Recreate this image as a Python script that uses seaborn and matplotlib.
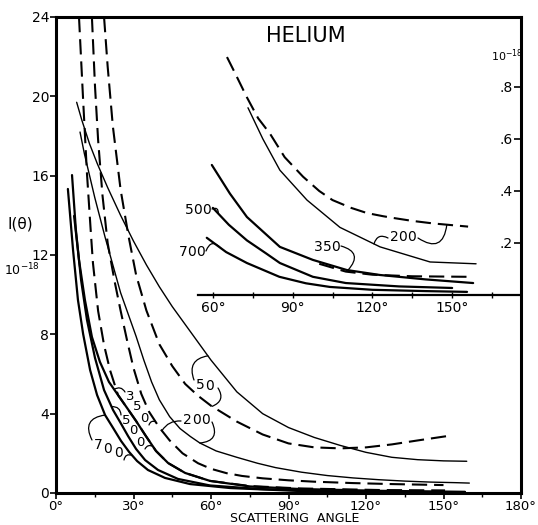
import numpy as np
import pandas as pd
import matplotlib
matplotlib.use("Agg")
import matplotlib.pyplot as plt
import seaborn as sns
from matplotlib.ticker import MultipleLocator

sns.set_style("ticks")
plt.rcParams['font.family'] = ['DejaVu Sans']
plt.rcParams['lines.scale_dashes'] = False
for k in ('text.color', 'axes.labelcolor', 'xtick.color', 'ytick.color', 'axes.edgecolor'):
    plt.rcParams[k] = 'black'

# ---------------- main panel data (theta in degrees, I in 1e-18) ----------------
s50_theta = [8, 10, 13, 16, 20, 25, 30, 35, 40, 45, 50, 55, 60, 65, 70, 80, 90, 100, 110, 120, 130, 140, 150, 159]
s50_I = [19.7, 18.8, 17.6, 16.6, 15.4, 14.0, 12.7, 11.5, 10.4, 9.4, 8.5, 7.6, 6.7, 5.9, 5.1, 4.0, 3.3, 2.8, 2.4, 2.05, 1.8, 1.68, 1.62, 1.6]

d50_theta = [18.6, 20, 22, 25, 28, 31, 35, 40, 45, 50, 55, 60, 70, 80, 90, 100, 110, 120, 130, 140, 153]
d50_I = [24, 21.5, 18.5, 15.3, 13.0, 11.0, 9.2, 7.5, 6.4, 5.5, 4.9, 4.4, 3.6, 2.95, 2.5, 2.3, 2.25, 2.3, 2.45, 2.65, 2.9]

s200_theta = [9.3, 11, 13, 15, 17, 19, 22, 25, 28, 31, 34, 37, 40, 44, 48, 52, 55.7, 62, 70, 78, 85, 95, 105, 115, 125, 135, 145, 155, 160]
s200_I = [18.2, 17.1, 16.0, 14.9, 13.9, 12.9, 11.5, 10.1, 9.0, 7.9, 6.7, 5.6, 4.7, 3.85, 3.25, 2.85, 2.52, 2.12, 1.8, 1.5, 1.28, 1.05, 0.88, 0.76, 0.67, 0.6, 0.55, 0.52, 0.5]

d200_theta = [13.9, 15.1, 16.3, 18, 20, 22.8, 25, 27.5, 30, 33, 36, 40, 44, 49, 55, 60, 66, 72, 80, 90, 100, 115, 130, 150]
d200_I = [24, 20.5, 17.8, 15.0, 12.6, 10.6, 9.2, 7.7, 6.3, 5.0, 4.1, 3.3, 2.65, 2.0, 1.5, 1.22, 1.0, 0.86, 0.74, 0.64, 0.57, 0.5, 0.45, 0.4]

d350_theta = [8.9, 10.5, 12.0, 13.5, 14.3, 16.3, 18.6, 20.9, 24.0, 27.5, 31.0, 34.8, 38.7, 43.4, 50.0, 59.6, 75.1, 94.5, 125.4, 150.6]
d350_I = [24.0, 19.82, 16.08, 13.11, 11.6, 9.18, 7.46, 6.2, 4.94, 4.29, 3.63, 2.87, 2.12, 1.51, 1.01, 0.61, 0.35, 0.23, 0.15, 0.13]

s350_theta = [7.0, 8.9, 11.2, 13.9, 17.0, 20.5, 24.0, 27.5, 31.0, 34.8, 38.7, 43.4, 50.0, 59.6, 75.1, 94.5, 125.4, 158.3]
s350_I = [13.97, 11.75, 9.73, 7.87, 6.61, 5.6, 4.94, 4.29, 3.63, 2.87, 2.12, 1.51, 1.01, 0.61, 0.33, 0.2, 0.11, 0.06]

s500_theta = [6.2, 7.7, 9.7, 12.0, 15.1, 18.6, 22.1, 24.8, 27.9, 31.0, 34.5, 39.5, 47.2, 59.6, 79.0, 106.1, 158.3]
s500_I = [16.03, 13.26, 10.74, 8.72, 6.81, 5.19, 4.18, 3.58, 2.87, 2.22, 1.66, 1.16, 0.71, 0.38, 0.2, 0.086, 0.035]

s700_theta = [4.6, 6.6, 8.5, 10.5, 13.2, 15.9, 19.0, 22.1, 25.2, 28.3, 31.4, 35.6, 42.2, 51.9, 67.4, 94.5, 133.2, 158.3]
s700_I = [15.33, 12.25, 9.73, 8.02, 6.2, 4.94, 3.93, 3.28, 2.62, 2.07, 1.61, 1.16, 0.76, 0.45, 0.25, 0.1, 0.035, 0.015]

# ---------------- inset data ----------------
in_d200_theta = [65.3, 68, 72.8, 77, 81.5, 87, 93.9, 100, 105, 112, 118, 124, 128, 135, 143, 156]
in_d200_I = [0.915, 0.86, 0.76, 0.68, 0.62, 0.53, 0.455, 0.40, 0.365, 0.335, 0.315, 0.303, 0.296, 0.285, 0.275, 0.263]

in_s200_theta = [73.2, 78.8, 85.2, 95.4, 107.8, 122.9, 141.7, 159]
in_s200_I = [0.72, 0.6, 0.48, 0.365, 0.26, 0.185, 0.127, 0.12]

in_s350_theta = [59.6, 66.4, 72.8, 85.2, 97.6, 110.4, 122.8, 140, 157.9]
in_s350_I = [0.5, 0.39, 0.30, 0.185, 0.135, 0.096, 0.077, 0.06, 0.046]

in_d350_theta = [100, 110, 120, 135, 155.6]
in_d350_I = [0.12, 0.09, 0.078, 0.072, 0.07]

in_s500_theta = [60, 66, 72.8, 80, 85.2, 97.6, 110, 130, 150]
in_s500_I = [0.335, 0.27, 0.21, 0.16, 0.123, 0.07, 0.046, 0.033, 0.027]

in_s700_theta = [57.7, 65, 72.8, 85, 95, 104, 120, 140, 155.6]
in_s700_I = [0.22, 0.165, 0.123, 0.07, 0.045, 0.031, 0.02, 0.015, 0.012]

main_ticks_y = [0, 4, 8, 12, 16, 20, 24]
main_ticks_x = [0, 30, 60, 90, 120, 150, 180]
inset_ticks_y = [0.2, 0.4, 0.6, 0.8]
inset_ticklabels_y = ['.2', '.4', '.6', '.8']
inset_ticks_x = [60, 90, 120, 150]

W, H = 538, 525
fig = plt.figure(figsize=(W / 100, H / 100), dpi=100)

def px_axes(x0, y0, x1, y1):
    return [x0 / W, 1 - y1 / H, (x1 - x0) / W, (y1 - y0) / H]

ax = fig.add_axes(px_axes(56, 17, 521, 493))
ax_in = fig.add_axes(px_axes(198, 17, 521, 295))
ax_in.patch.set_alpha(0)

THIN = 1.0
THICK = 1.6
DASH = (0, (11, 5))

main_curves = [
    (s50_theta, s50_I, 'thin'),
    (d50_theta, d50_I, 'dash'),
    (s200_theta, s200_I, 'thin'),
    (d200_theta, d200_I, 'dash'),
    (d350_theta, d350_I, 'dash'),
    (s350_theta, s350_I, 'thick'),
    (s500_theta, s500_I, 'thick'),
    (s700_theta, s700_I, 'thick'),
]
inset_curves = [
    (in_d200_theta, in_d200_I, 'dash'),
    (in_s200_theta, in_s200_I, 'thin'),
    (in_d350_theta, in_d350_I, 'dash'),
    (in_s350_theta, in_s350_I, 'thick'),
    (in_s500_theta, in_s500_I, 'thick'),
    (in_s700_theta, in_s700_I, 'thick'),
]

def draw(axis, curves):
    for th, iv, kind in curves:
        df = pd.DataFrame({'theta': th, 'I': iv})
        if kind == 'dash':
            sns.lineplot(data=df, x='theta', y='I', ax=axis, color='black', lw=1.5,
                         linestyle=DASH, sort=False, estimator=None)
        else:
            sns.lineplot(data=df, x='theta', y='I', ax=axis, color='black',
                         lw=THIN if kind == 'thin' else THICK, sort=False, estimator=None)

draw(ax, main_curves)
draw(ax_in, inset_curves)

# ---- main axes styling ----
ax.set_xlim(0, 180)
ax.set_ylim(0, 24)
for s in ax.spines.values():
    s.set_linewidth(2.2)
    s.set_visible(True)
ax.set_xticks(main_ticks_x)
ax.set_xticklabels([f"{v}°" for v in main_ticks_x])
ax.xaxis.set_minor_locator(MultipleLocator(15))
ax.set_yticks(main_ticks_y)
ax.set_yticklabels([str(v) for v in main_ticks_y])
ax.tick_params(axis='both', which='major', direction='out', length=4, width=1.2,
               labelsize=9.5, pad=1)
ax.tick_params(axis='y', which='major', labelsize=10)
ax.tick_params(axis='x', which='minor', direction='out', length=3, width=1.0)
ax.set_xlabel("SCATTERING  ANGLE", fontsize=9, va='bottom')
ax.xaxis.set_label_coords((295 - 56) / 465, (493 - 525) / 476)
ax.set_ylabel("I(θ)", fontsize=11, rotation=0, va='center', ha='center')
ax.yaxis.set_label_coords((20 - 56) / 465, (493 - 224) / 476)
ax.text((22 - 56) / 465, (493 - 270) / 476, r"$10^{-18}$", transform=ax.transAxes,
        ha='center', va='center', fontsize=9)

# ---- inset styling ----
ax_in.set_xlim(54.4, 175.9)
ax_in.set_ylim(0, 1.069)
for k in ('top', 'left', 'right'):
    ax_in.spines[k].set_visible(False)
ax_in.spines['bottom'].set_linewidth(1.6)
ax_in.yaxis.tick_right()
ax_in.set_yticks(inset_ticks_y)
ax_in.set_yticklabels(inset_ticklabels_y)
ax_in.tick_params(axis='y', direction='in', length=5, width=1.2, labelsize=10, pad=-6)
plt.setp(ax_in.get_yticklabels(), ha='right')
ax_in.set_xticks(inset_ticks_x)
ax_in.set_xticklabels([f"{v}°" for v in inset_ticks_x])
ax_in.xaxis.set_minor_locator(MultipleLocator(15))
ax_in.tick_params(axis='x', which='major', direction='inout', length=5, width=1.0,
                  labelsize=10, pad=2)
ax_in.tick_params(axis='x', which='minor', direction='inout', length=4, width=1.0)
ax_in.set_xlabel("")
ax_in.set_ylabel("")
fig.text(306 / W, 1 - 36 / H, "HELIUM", fontsize=15, ha='center', va='center')
fig.text(507 / W, 1 - 56 / H, r"$10^{-18}$", fontsize=8, ha='center', va='center')

# ---- helpers for labels and bracket hooks ----
def px_to_data(axis, x, y):
    disp = fig.transFigure.transform((x / W, 1 - y / H))
    return axis.transData.inverted().transform(disp)

def hook(axis, start_px, th, arr_t, arr_i, rad):
    p = px_to_data(axis, *start_px)
    yv = float(np.interp(th, arr_t, arr_i))
    axis.annotate("", xy=(th, yv), xytext=(p[0], p[1]),
                  arrowprops=dict(arrowstyle='-', lw=0.9, color='black',
                                  connectionstyle=f"arc3,rad={rad}",
                                  shrinkA=0, shrinkB=0))

def chars(axis, text, positions, fs=10):
    for ch, (x, y) in zip(text, positions):
        p = px_to_data(axis, x, y)
        axis.text(p[0], p[1], ch, fontsize=fs, ha='center', va='center')

# main "50"
chars(ax, "50", [(200, 385), (209, 386)])
hook(ax, (194, 380), 58.8, s50_theta, s50_I, -0.6)
hook(ax, (218, 388), 60.4, d50_theta, d50_I, -0.6)
# main "200"
chars(ax, "200", [(187, 420), (196, 420), (205, 420)])
hook(ax, (181, 421), 41, d200_theta, d200_I, 0.3)
hook(ax, (212, 422), 55.7, s200_theta, s200_I, -0.7)
# main "350" (diagonal, upright glyphs)
chars(ax, "350", [(130, 397), (137, 407), (144, 419)], fs=9.5)
hook(ax, (125, 392), 22.5, s350_theta, s350_I, 0.5)
hook(ax, (149, 425), 38.5, d200_theta, d200_I, -0.5)
# main "500"
chars(ax, "500", [(126, 420), (133, 431), (140, 443)], fs=9.5)
hook(ax, (121, 415), 21.5, s500_theta, s500_I, 0.5)
hook(ax, (145, 449), 37.5, s350_theta, s350_I, -0.5)
# main "700"
chars(ax, "700", [(98, 445), (108, 449), (118, 453)])
hook(ax, (92, 440), 19, s700_theta, s700_I, -0.7)
hook(ax, (124, 460), 29.5, s700_theta, s700_I, -0.6)

# inset labels
chars(ax_in, "500", [(189, 210), (198, 210), (207, 210)])
hook(ax_in, (212, 209), 62, in_s500_theta, in_s500_I, -0.8)
chars(ax_in, "700", [(183, 252), (192, 252), (201, 252)])
hook(ax_in, (206, 251), 63, in_s700_theta, in_s700_I, -0.8)
chars(ax_in, "350", [(318, 247), (327, 247), (336, 247)])
hook(ax_in, (341, 246), 110.8, in_s350_theta, in_s350_I, -0.8)
chars(ax_in, "200", [(394, 237), (403, 237), (412, 237)])
hook(ax_in, (388, 238), 120.6, in_s200_theta, in_s200_I, 0.6)
hook(ax_in, (418, 238), 148, in_d200_theta, in_d200_I, 0.8)

fig.savefig("out.png", dpi=100)
